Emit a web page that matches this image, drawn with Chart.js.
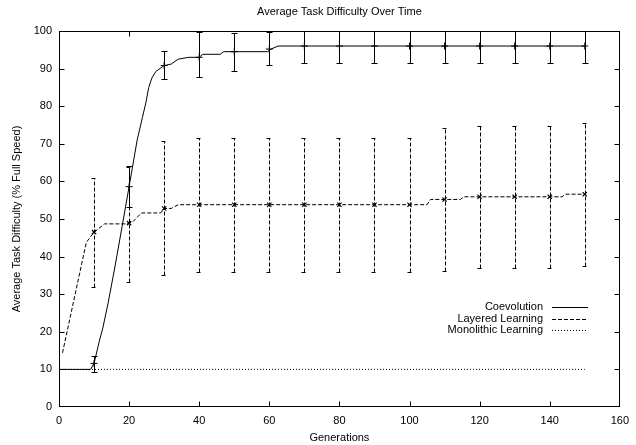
<!DOCTYPE html>
<html><head><meta charset="utf-8">
<script src="https://cdn.jsdelivr.net/npm/chart.js@4/dist/chart.umd.min.js"></script>
<style>html,body{margin:0;padding:0;background:#fff}#wrap{width:636px;height:445px;position:relative}</style>
</head><body><div id="wrap"><canvas id="c" width="636" height="445"></canvas></div>
<script>
const FONT = '"Liberation Sans", Arial, Helvetica, sans-serif';
const chartTitle = 'Average Task Difficulty Over Time';
const xAxisTitle = 'Generations';
const yAxisTitle = 'Average Task Difficulty (% Full Speed)';
const seriesNames = ['Coevolution', 'Layered Learning', 'Monolithic Learning'];

// Coevolution mean curve
const coevoGen = [0, 9, 10, 11.5, 12.5, 14, 16, 18, 20, 22.3, 23.8, 24.8, 25.6, 26.5, 27.6, 29.5, 30, 32, 34, 37, 40, 41, 46, 47, 59.5, 60.5, 62.5, 150];
const coevoVal = [10, 10, 11.6, 17.5, 21, 27.6, 37.5, 48, 58.6, 71, 77, 81, 85, 87.5, 89.2, 90.5, 90.8, 91.2, 92.5, 93, 93, 93.8, 93.8, 94.5, 94.5, 95.2, 96, 96];

// Layered learning mean curve
const layeredGen = [1, 7.8, 10, 13, 19, 20, 21, 23.5, 29, 30, 32, 34, 105, 106, 114.5, 115.5, 143.5, 144.5, 150];
const layeredVal = [14.4, 43.8, 46.5, 48.7, 48.7, 48.9, 49.2, 51.6, 51.6, 52.8, 52.8, 53.8, 53.8, 55.2, 55.2, 55.9, 55.9, 56.6, 56.6];

// Monolithic learning
const monoGen = [0, 150];
const monoVal = [10, 10];

// Error bars (every 10 generations)
const errGen = [10, 20, 30, 40, 50, 60, 70, 80, 90, 100, 110, 120, 130, 140, 150];
const coevoMean = [11.6, 58.6, 90.8, 93, 94.5, 95.2, 96, 96, 96, 96, 96, 96, 96, 96, 96];
const coevoLow  = [9.4, 53.3, 87.2, 87.7, 89.4, 91, 91.4, 91.4, 91.4, 91.4, 91.4, 91.4, 91.4, 91.4, 91.4];
const coevoHigh = [13.6, 64.1, 94.8, 99.8, 99.6, 99.8, 100, 100, 100, 100, 100, 100, 100, 100, 100];
const layeredMean = [46.5, 48.9, 52.8, 53.8, 53.8, 53.8, 53.8, 53.8, 53.8, 53.8, 55.2, 55.9, 55.9, 55.9, 56.6];
const layeredLow  = [32, 33.3, 35.1, 36, 35.8, 35.8, 35.8, 35.8, 35.8, 35.8, 36.3, 36.9, 36.9, 36.9, 37.5];
const layeredHigh = [60.8, 63.9, 70.8, 71.5, 71.5, 71.5, 71.5, 71.5, 71.5, 71.5, 74.1, 74.7, 74.7, 74.7, 75.4];

const xMin = 0, xMax = 160, xStep = 20;
const yMin = 0, yMax = 100, yStep = 10;

const pts = (xs, ys) => xs.map((x, i) => ({x, y: ys[i]}));

const DASH = [4, 2];
const DOT = [1, 2];

const errorBarPlugin = {
  id: 'errbars',
  afterDatasetsDraw(chart) {
    const {ctx, chartArea: a, scales: {x, y}} = chart;
    ctx.save();
    ctx.beginPath();
    ctx.rect(a.left, a.top - 1, a.right - a.left, a.bottom - a.top + 2);
    ctx.clip();
    ctx.strokeStyle = '#000';
    ctx.lineWidth = 1;
    const draw = (lo, hi, dash) => {
      ctx.setLineDash(dash);
      ctx.beginPath();
      errGen.forEach((g, i) => {
        const px = Math.round(x.getPixelForValue(g)) + 0.5;
        const pl = Math.round(y.getPixelForValue(lo[i])) + 0.5;
        const ph = Math.round(y.getPixelForValue(hi[i])) + 0.5;
        ctx.moveTo(px, pl); ctx.lineTo(px, ph);
        ctx.moveTo(px - 3, pl); ctx.lineTo(px + 3, pl);
        ctx.moveTo(px - 3, ph); ctx.lineTo(px + 3, ph);
      });
      ctx.stroke();
    };
    draw(coevoLow, coevoHigh, []);
    draw(layeredLow, layeredHigh, DASH);
    ctx.restore();
  }
};

const framePlugin = {
  id: 'frame',
  afterDraw(chart) {
    const {ctx, chartArea: a, scales: {x, y}} = chart;
    ctx.save();
    ctx.strokeStyle = '#000';
    ctx.lineWidth = 1;
    ctx.setLineDash([]);
    const L = Math.round(a.left) + 0.5, R = Math.round(a.right) - 0.5;
    const T = Math.round(a.top) + 0.5, B = Math.round(a.bottom) - 0.5;
    ctx.strokeRect(L, T, R - L, B - T);
    ctx.beginPath();
    x.ticks.forEach(t => {
      if (t.value <= x.min || t.value >= x.max) return;
      const px = Math.round(x.getPixelForValue(t.value)) + 0.5;
      ctx.moveTo(px, B); ctx.lineTo(px, B - 5);
      ctx.moveTo(px, T); ctx.lineTo(px, T + 5);
    });
    y.ticks.forEach(t => {
      if (t.value <= y.min || t.value >= y.max) return;
      const py = Math.round(y.getPixelForValue(t.value)) + 0.5;
      ctx.moveTo(L, py); ctx.lineTo(L + 5, py);
      ctx.moveTo(R, py); ctx.lineTo(R - 5, py);
    });
    ctx.stroke();

    // title
    ctx.fillStyle = '#000';
    ctx.font = '11px ' + FONT;
    ctx.textAlign = 'center';
    ctx.textBaseline = 'middle';
    ctx.fillText(chartTitle, (a.left + a.right) / 2, 12);

    // legend (gnuplot style: text then line sample)
    const dashes = [[], DASH, DOT];
    const rowsY = [307, 318.5, 330];
    const textRight = 543, lineL = 552, lineR = 588;
    seriesNames.forEach((name, i) => {
      ctx.textAlign = 'right';
      ctx.fillText(name, textRight, rowsY[i]);
      ctx.setLineDash(dashes[i]);
      ctx.beginPath();
      const yy = Math.round(rowsY[i]) + 0.5;
      ctx.moveTo(lineL, yy); ctx.lineTo(lineR, yy);
      ctx.stroke();
    });
    ctx.restore();
  }
};

new Chart(document.getElementById('c'), {
  type: 'scatter',
  data: {
    datasets: [
      {label: seriesNames[0], data: pts(coevoGen, coevoVal), showLine: true, borderColor: '#000', borderWidth: 1, pointRadius: 0, tension: 0},
      {label: seriesNames[1], data: pts(layeredGen, layeredVal), showLine: true, borderColor: '#000', borderWidth: 1, borderDash: DASH, pointRadius: 0, tension: 0},
      {label: seriesNames[2], data: pts(monoGen, monoVal), showLine: true, borderColor: '#000', borderWidth: 1, borderDash: DOT, pointRadius: 0, tension: 0},
      {label: 'coevo points', data: pts(errGen, coevoMean), showLine: false, pointStyle: 'cross', pointRadius: 3.5, borderColor: '#000', borderWidth: 1, backgroundColor: '#000'},
      {label: 'layered points', data: pts(errGen, layeredMean), showLine: false, pointStyle: 'crossRot', pointRadius: 3, borderColor: '#000', borderWidth: 1.2, backgroundColor: '#000'}
    ]
  },
  options: {
    responsive: false,
    animation: false,
    devicePixelRatio: 1,
    layout: {padding: {top: 31, right: 9, left: 0, bottom: 0}},
    plugins: {legend: {display: false}, tooltip: {enabled: false}, title: {display: false}},
    scales: {
      x: {
        type: 'linear', min: xMin, max: xMax,
        ticks: {stepSize: xStep, color: '#000', font: {family: FONT, size: 11}, padding: 7, maxRotation: 0},
        grid: {display: false, drawTicks: false},
        border: {display: false},
        title: {display: true, text: xAxisTitle, color: '#000', font: {family: FONT, size: 11}, padding: {top: 0, bottom: 0}},
        afterFit(s) { s.height = 38; }
      },
      y: {
        type: 'linear', min: yMin, max: yMax,
        ticks: {stepSize: yStep, color: '#000', font: {family: FONT, size: 11}, padding: 7},
        grid: {display: false, drawTicks: false},
        border: {display: false},
        title: {display: true, text: yAxisTitle, color: '#000', font: {family: FONT, size: 11}, padding: {top: 10, bottom: 0}},
        afterFit(s) { s.width = 59; }
      }
    }
  },
  plugins: [errorBarPlugin, framePlugin]
});
</script>
</body></html>
